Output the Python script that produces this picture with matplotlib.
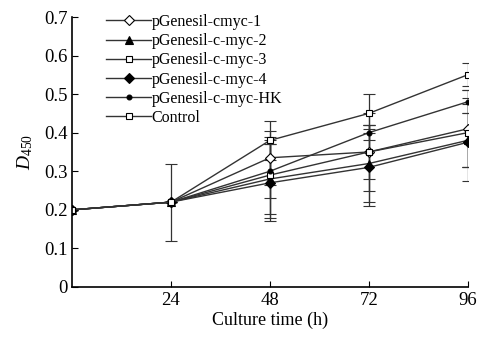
import matplotlib
matplotlib.use("Agg")
import matplotlib.pyplot as plt
from matplotlib.lines import Line2D

plt.rcParams['font.family'] = ['Liberation Serif', 'DejaVu Serif']
plt.rcParams['mathtext.fontset'] = 'custom'
plt.rcParams['mathtext.it'] = 'Liberation Serif:italic'
plt.rcParams['mathtext.rm'] = 'Liberation Serif'

# data
hours = [0, 24, 48, 72, 96]
names = ['pGenesil-cmyc-1', 'pGenesil-c-myc-2', 'pGenesil-c-myc-3',
         'pGenesil-c-myc-4', 'pGenesil-c-myc-HK', 'Control']
cmyc1 = [0.20, 0.22, 0.335, 0.35, 0.41]
cmyc2 = [0.20, 0.22, 0.28, 0.32, 0.38]
cmyc3 = [0.20, 0.22, 0.29, 0.35, 0.40]
cmyc4 = [0.20, 0.22, 0.27, 0.31, 0.375]
cmycHK = [0.20, 0.22, 0.30, 0.40, 0.48]
control = [0.20, 0.22, 0.38, 0.45, 0.55]
err1 = [0, 0, 0.07, 0.07, 0.10]
err2 = [0, 0, 0.10, 0.10, 0.07]
err3 = [0, 0, 0.10, 0.10, 0.09]
err4 = [0, 0, 0.10, 0.10, 0.10]
errHK = [0, 0, 0.07, 0.02, 0.03]
errC = [0, 0.10, 0.05, 0.05, 0.03]

series = [cmyc1, cmyc2, cmyc3, cmyc4, cmycHK, control]
errs = [err1, err2, err3, err4, errHK, errC]
markers = ['D', '^', 's', 'D', 'o', 's']
faces = ['white', 'black', 'white', 'black', 'black', 'white']
sizes = [5, 5.5, 4, 5, 3.5, 4]

fig = plt.figure(figsize=(4.81, 3.47), dpi=100)
ax = fig.add_axes([0.15, 0.173, 0.822, 0.778])

handles = []
for y, e, m, fc, ms, lab in zip(series, errs, markers, faces, sizes, names):
    ax.errorbar(hours, y, yerr=e, color='#333333', lw=1.0, elinewidth=0.9,
                capsize=4, capthick=0.9, marker=m, ms=ms, mfc=fc,
                mec='black', mew=0.8)
    handles.append(Line2D([], [], color='#333333', lw=1.0, marker=m, ms=ms,
                          mfc=fc, mec='black', mew=0.8, label=lab))

ax.set_xlim(0, 96)
ax.set_ylim(0, 0.7)
ax.set_xticks([24, 48, 72, 96])
ax.set_yticks([0, 0.1, 0.2, 0.3, 0.4, 0.5, 0.6, 0.7])
ax.set_yticklabels(['0', '0.1', '0.2', '0.3', '0.4', '0.5', '0.6', '0.7'])
for s in ['top', 'right']:
    ax.spines[s].set_visible(False)
for s in ['left', 'bottom']:
    ax.spines[s].set_linewidth(1.2)
ax.tick_params(direction='in', length=4, labelsize=13.5)
ax.set_xlabel('Culture time (h)', fontsize=13, labelpad=2)
ax.set_ylabel('$\\mathit{D}_{\\mathrm{450}}$', fontsize=14, labelpad=6)

ax.legend(handles=handles, loc='upper left', bbox_to_anchor=(0.07, 1.035),
          frameon=False, fontsize=11.5, handlelength=2.8, handletextpad=0.05,
          labelspacing=0.2, borderaxespad=0)

fig.savefig('out.png', dpi=100)
